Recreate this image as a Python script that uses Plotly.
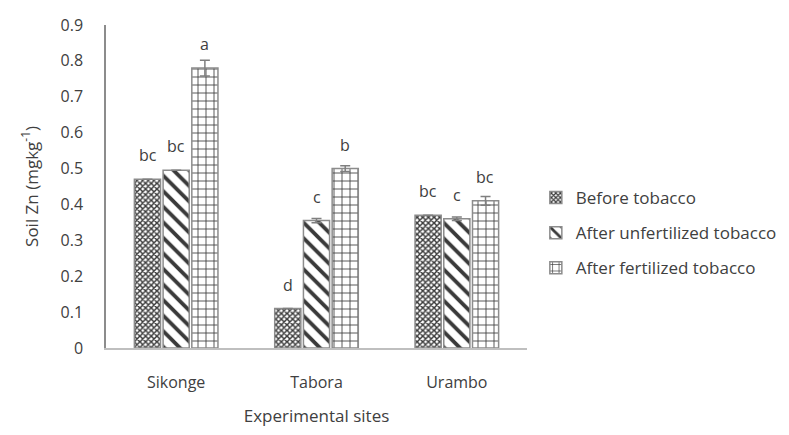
import plotly.graph_objects as go

sites = ["Sikonge", "Tabora", "Urambo"]
series_names = ["Before tobacco", "After unfertilized tobacco", "After fertilized tobacco"]
before = [0.47, 0.11, 0.37]
after_unfert = [0.495, 0.355, 0.36]
after_fert = [0.78, 0.50, 0.41]
err_before = [0.0, 0.0, 0.0]
err_unfert = [0.0, 0.006, 0.005]
err_fert = [0.022, 0.008, 0.012]
letters_before = ["bc", "d", "bc"]
letters_unfert = ["bc", "c", "c"]
letters_fert = ["a", "b", "bc"]

values = [before, after_unfert, after_fert]
errors = [err_before, err_unfert, err_fert]
letters = [letters_before, letters_unfert, letters_fert]
patterns = ["x", "\\", "+"]
psizes = [4, 11, 8]
psolid = [0.6, 0.35, 0.2]

FONT = "Open Sans, sans-serif"
TXT = "#404040"

fig = go.Figure()
for i in range(3):
    fig.add_trace(go.Bar(
        x=sites, y=values[i], name=series_names[i], legendgroup=str(i),
        marker=dict(color="white", line=dict(color="#8c8c8c", width=1.5),
                    pattern=dict(shape=patterns[i], fgcolor="#3a3a3a", bgcolor="white",
                                 size=psizes[i], solidity=psolid[i], fillmode="replace")),
        error_y=dict(type="data", array=errors[i], color="#7f7f7f", thickness=1.5, width=5,
                     visible=True),
    ))

group_w = 140 * (1 - 0.386)
slot = group_w / 3
for i in range(3):
    for j, s in enumerate(sites):
        fig.add_annotation(
            x=s, y=values[i][j], text=letters[i][j], showarrow=False,
            xshift=(i - 1) * slot, yanchor="bottom", yshift=11,
            font=dict(family=FONT, size=16, color=TXT))

fig.update_layout(
    width=781, height=427,
    margin=dict(l=98, r=262, t=17, b=87, autoexpand=False),
    plot_bgcolor="white", paper_bgcolor="white",
    barmode="group", bargap=0.386, bargroupgap=0.09,
    font=dict(family=FONT, color=TXT),
    legend=dict(x=1.021, y=0.52, xanchor="left", yanchor="top",
                font=dict(size=17, color=TXT, family=FONT), tracegroupgap=10,
                traceorder="grouped", itemwidth=30),
    showlegend=True,
)
fig.update_xaxes(showline=True, linecolor="#bfbfbf", linewidth=1.5, ticks="",
                 automargin=False, ticklabelstandoff=19,
                 tickfont=dict(size=16, color=TXT, family=FONT),
                 title=dict(text="Experimental sites", font=dict(size=17, color=TXT, family=FONT), standoff=18))
fig.update_yaxes(range=[0, 0.9], dtick=0.1, tickformat="~g", showgrid=False, zeroline=False,
                 showline=True, linecolor="#8c8c8c", linewidth=1.5, ticks="",
                 automargin=False, ticklabelstandoff=18,
                 tickfont=dict(size=16, color=TXT, family=FONT),
                 title=dict(text="Soil Zn (mgkg<sup>-1</sup>)", font=dict(size=17, color=TXT, family=FONT), standoff=18))

fig.write_html("out.html")
